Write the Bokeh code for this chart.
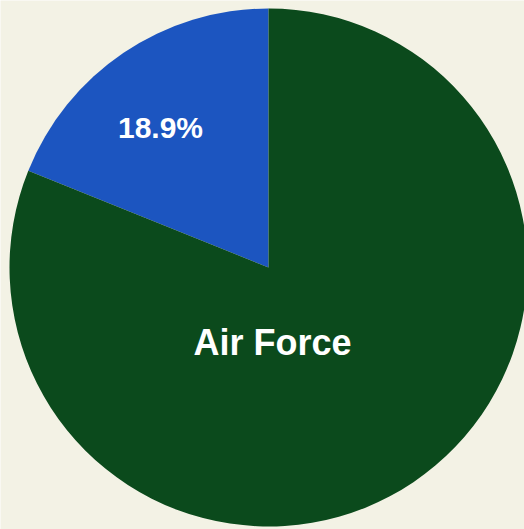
import math
from bokeh.plotting import figure
from bokeh.models import Range1d, ColumnDataSource
from bokeh.core.properties import value
from bokeh.embed import file_html
from bokeh.resources import INLINE

# Share of the total, starting at 12 o'clock and running counter-clockwise
categories = ["Other", "Air Force"]
shares = [18.9, 81.1]
labels = ["18.9%", "Air Force"]
colors = ["#1c55c0", "#0b4a1c"]

W, H = 524, 529
cx, cy, r = 268, H - 267, 259

start, end = [], []
acc = 0.0
for s in shares:
    a0 = math.pi / 2 + 2 * math.pi * acc / 100.0
    acc += s
    a1 = math.pi / 2 + 2 * math.pi * acc / 100.0
    start.append(a0)
    end.append(a1)

src = ColumnDataSource(dict(cat=categories, share=shares, start=start,
                            end=end, color=colors))

p = figure(width=W, height=H, output_backend="svg", toolbar_location=None,
           x_range=Range1d(0, W), y_range=Range1d(0, H),
           min_border=0, outline_line_color=None,
           background_fill_color="#f3f2e5", border_fill_color="#f3f2e5")
p.axis.visible = False
p.grid.visible = False

p.wedge(x=cx, y=cy, radius=r, start_angle="start", end_angle="end",
        fill_color="color", line_color=None, source=src)

# slice labels
lab = ColumnDataSource(dict(x=[160, 272], y=[H - 127, H - 342], t=labels,
                            size=["30px", "36px"]))
p.text(x="x", y="y", text="t", source=lab, text_color="white",
       text_font=value("Liberation Sans"), text_font_style="bold",
       text_font_size="size", text_align="center", text_baseline="middle")

open("out.html", "w").write(file_html(p, INLINE))
